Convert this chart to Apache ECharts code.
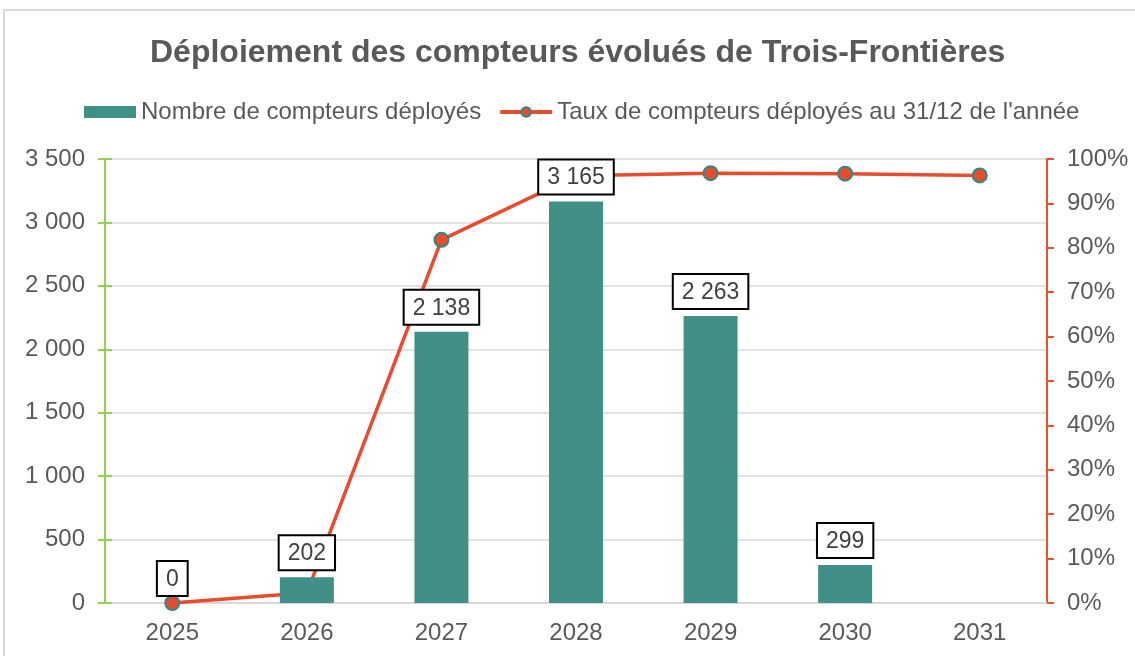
<!DOCTYPE html>
<html>
<head>
<meta charset="utf-8">
<script src="https://cdn.jsdelivr.net/npm/echarts@6/dist/echarts.min.js"></script>
<style>
  html, body { margin: 0; padding: 0; background: #fff; }
  #chart { width: 1135px; height: 656px; }
</style>
</head>
<body>
<div id="chart"></div>
<script>
var annees = ['2025', '2026', '2027', '2028', '2029', '2030', '2031'];
// nombre de compteurs déployés (pas de barre en 2031)
var nombreDeployes = [0, 202, 2138, 3165, 2263, 299, null];
// taux au 31/12 (%)
var tauxDeployes = [0, 2.3, 81.8, 96.2, 96.8, 96.7, 96.3];

var gris = '#595959';
var sarcelle = '#419087';
var rouge = '#e84c2e';
var vert = '#92d050';

function milliers(v) {
  return String(v).replace(/\B(?=(\d{3})+(?!\d))/g, ' ');
}

var chart = echarts.init(document.getElementById('chart'));
var option = {
  animation: false,
  textStyle: { fontFamily: 'Liberation Sans, Arial, sans-serif' },
  graphic: [{
    type: 'rect',
    shape: { x: 4, y: 10, width: 1200, height: 700 },
    style: { fill: 'none', stroke: '#d9d9d9', lineWidth: 2 },
    silent: true
  }],
  title: {
    text: 'Déploiement des compteurs évolués de Trois-Frontières',
    left: 145,
    top: 32,
    textStyle: { color: gris, fontSize: 32, fontWeight: 'bold' }
  },
  legend: {
    top: 95,
    left: 79,
    itemGap: 17,
    itemWidth: 52,
    itemHeight: 12,
    textStyle: { color: gris, fontSize: 24 },
    data: [
      { name: 'Nombre de compteurs déployés', icon: 'rect' },
      {
        name: "Taux de compteurs déployés au 31/12 de l'année",
        lineStyle: { width: 4 },
        itemStyle: { borderWidth: 2 }
      }
    ]
  },
  grid: { left: 105, right: 88, top: 159, bottom: 53 },
  xAxis: {
    type: 'category',
    data: annees,
    axisLine: { lineStyle: { color: '#d9d9d9', width: 2 } },
    axisTick: { show: false },
    axisLabel: { color: gris, fontSize: 24, margin: 18 }
  },
  yAxis: [{
    type: 'value',
    min: 0,
    max: 3500,
    interval: 500,
    axisLine: { show: true, lineStyle: { color: vert, width: 2 } },
    axisTick: { show: true, length: 7, lineStyle: { color: vert, width: 2 } },
    axisLabel: { color: gris, fontSize: 24, margin: 20, formatter: milliers },
    splitLine: { lineStyle: { color: '#d9d9d9', width: 1.5 } }
  }, {
    type: 'value',
    min: 0,
    max: 100,
    interval: 10,
    axisLine: { show: true, lineStyle: { color: '#f0502a', width: 2 } },
    axisTick: { show: true, length: 7, lineStyle: { color: '#f0502a', width: 2 } },
    axisLabel: { color: gris, fontSize: 24, margin: 20, formatter: '{value}%' },
    splitLine: { show: false }
  }, {
    // graduations intérieures de l'axe gauche (croix)
    type: 'value',
    position: 'left',
    min: 0,
    max: 3500,
    interval: 500,
    axisLine: { show: true, lineStyle: { color: vert, width: 2 } },
    axisTick: { show: true, inside: true, length: 7, lineStyle: { color: vert, width: 2 } },
    axisLabel: { show: false },
    splitLine: { show: false }
  }],
  series: [{
    name: 'Nombre de compteurs déployés',
    type: 'bar',
    yAxisIndex: 0,
    barWidth: 54,
    data: nombreDeployes,
    itemStyle: { color: sarcelle },
    label: {
      show: true,
      position: 'top',
      distance: 8,
      color: '#404040',
      fontSize: 23,
      backgroundColor: '#fff',
      borderColor: '#000',
      borderWidth: 2,
      padding: [6, 8, 4, 8],
      formatter: function (p) { return p.value == null ? '' : milliers(p.value); }
    },
    z: 3
  }, {
    name: "Taux de compteurs déployés au 31/12 de l'année",
    type: 'line',
    yAxisIndex: 1,
    data: tauxDeployes,
    symbol: 'circle',
    symbolSize: 14,
    lineStyle: { color: rouge, width: 3.5 },
    itemStyle: { color: rouge, borderColor: '#2b8a86', borderWidth: 2 },
    z: 2
  }]
};
chart.setOption(option);
</script>
</body>
</html>
